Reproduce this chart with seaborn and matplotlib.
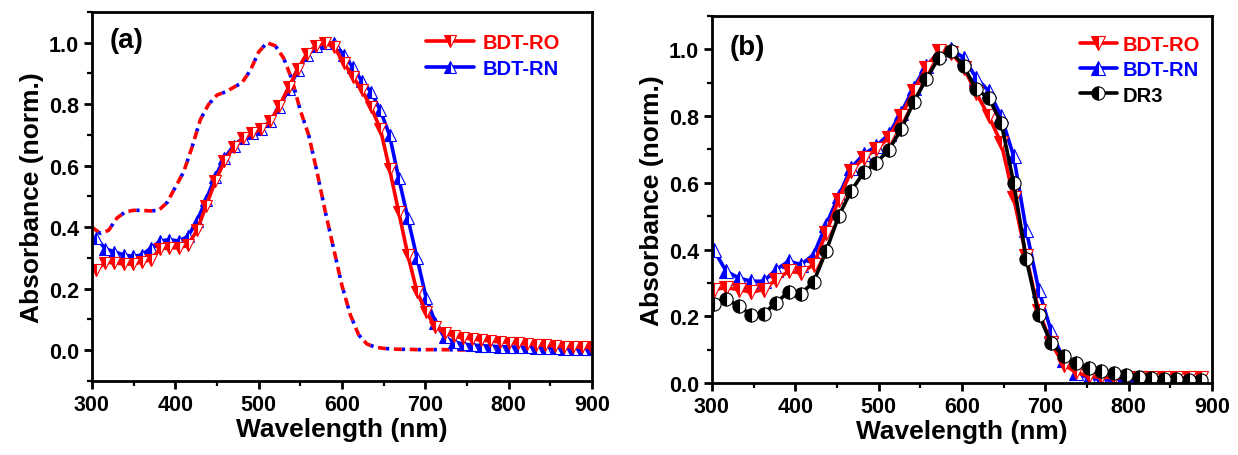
import matplotlib
matplotlib.use("Agg")
import matplotlib.pyplot as plt
import seaborn as sns
import pandas as pd
from matplotlib.ticker import MultipleLocator

# ---------------- data: panel (a) ----------------
# solution spectra (dashed), 10 nm steps
wl_sol = [300, 310, 320, 330, 340, 350, 360, 370, 380, 390, 400, 410, 420, 430,
          440, 450, 460, 470, 480, 490, 500, 510, 520, 530, 540, 550, 560, 570,
          580, 590, 600, 610, 620, 630, 640, 650, 660, 670, 680, 690, 700, 720,
          740, 760, 780, 800, 820, 840, 860, 880, 900]
ro_sol = [0.40, 0.38, 0.39, 0.43, 0.45, 0.455, 0.455, 0.453, 0.455, 0.48, 0.53,
          0.58, 0.66, 0.75, 0.80, 0.83, 0.84, 0.855, 0.87, 0.91, 0.97, 1.00,
          0.99, 0.95, 0.88, 0.78, 0.70, 0.58, 0.45, 0.33, 0.21, 0.115, 0.05,
          0.02, 0.01, 0.006, 0.004, 0.003, 0.003, 0.002, 0.002, 0.002, 0.001,
          0.001, 0.001, 0.001, 0.0, 0.0, 0.0, 0.0, 0.0]
rn_sol = [0.40, 0.38, 0.39, 0.43, 0.45, 0.455, 0.455, 0.453, 0.455, 0.48, 0.53,
          0.58, 0.66, 0.75, 0.80, 0.83, 0.84, 0.855, 0.87, 0.91, 0.97, 1.00,
          0.99, 0.95, 0.88, 0.78, 0.70, 0.58, 0.45, 0.33, 0.21, 0.115, 0.05,
          0.02, 0.01, 0.006, 0.004, 0.003, 0.003, 0.002, 0.002, 0.002, 0.001,
          0.001, 0.001, 0.001, 0.0, 0.0, 0.0, 0.0, 0.0]

# film spectra (markers)
wl_film_a = [305, 316, 327, 338, 349, 360, 371, 382, 393, 404, 415, 426, 437,
             448, 459, 470, 481, 492, 503, 514, 525, 536, 547, 558, 569, 580,
             591, 602, 613, 624, 635, 646, 657, 668, 679, 690, 701, 712, 723,
             734, 745, 756, 767, 778, 789, 800, 811, 822, 833, 844, 855, 866,
             877, 888, 899]
ro_film_a = [0.262, 0.285, 0.285, 0.28, 0.28, 0.287, 0.295, 0.33, 0.333, 0.333,
             0.342, 0.39, 0.47, 0.55, 0.615, 0.66, 0.69, 0.705, 0.72, 0.745,
             0.795, 0.855, 0.915, 0.965, 0.99, 1.0, 0.985, 0.935, 0.89, 0.845,
             0.79, 0.72, 0.59, 0.45, 0.31, 0.19, 0.125, 0.077, 0.056, 0.046,
             0.04, 0.037, 0.033, 0.03, 0.027, 0.025, 0.022, 0.02, 0.018, 0.016,
             0.014, 0.012, 0.011, 0.01, 0.009]
rn_film_a = [0.365, 0.33, 0.32, 0.31, 0.305, 0.31, 0.333, 0.355, 0.36, 0.355,
             0.37, 0.42, 0.49, 0.565, 0.625, 0.665, 0.69, 0.705, 0.72, 0.745,
             0.79, 0.85, 0.91, 0.96, 0.99, 1.0, 1.0, 0.96, 0.92, 0.875, 0.84,
             0.78, 0.70, 0.56, 0.43, 0.30, 0.17, 0.09, 0.042, 0.028, 0.02,
             0.017, 0.015, 0.013, 0.012, 0.011, 0.01, 0.009, 0.008, 0.007,
             0.006, 0.005, 0.005, 0.004, 0.004]

# ---------------- data: panel (b) ----------------
wl_b = [302, 317, 332, 347, 362, 377, 392, 407, 422, 437, 452, 467, 482, 497,
        512, 527, 542, 557, 572, 587, 602, 617, 632, 647, 662, 677, 692, 707,
        722, 737, 752, 767, 782, 797, 812, 827, 842, 857, 872, 887]
ro_b = [0.28, 0.286, 0.28, 0.272, 0.28, 0.31, 0.335, 0.33, 0.355, 0.45, 0.55,
        0.635, 0.675, 0.70, 0.735, 0.80, 0.875, 0.945, 0.995, 0.99, 0.945,
        0.87, 0.80, 0.72, 0.555, 0.38, 0.215, 0.12, 0.055, 0.032, 0.02, 0.017,
        0.016, 0.016, 0.016, 0.015, 0.015, 0.015, 0.015, 0.015]
rn_b = [0.40, 0.335, 0.315, 0.305, 0.305, 0.34, 0.365, 0.355, 0.385, 0.475,
        0.56, 0.645, 0.685, 0.71, 0.745, 0.81, 0.885, 0.95, 0.99, 1.0, 0.975,
        0.915, 0.875, 0.80, 0.68, 0.46, 0.28, 0.155, 0.07, 0.03, 0.015, 0.01,
        0.008, 0.008, 0.008, 0.008, 0.008, 0.008, 0.008, 0.008]
dr3_b = [0.237, 0.251, 0.231, 0.204, 0.208, 0.241, 0.273, 0.268, 0.303, 0.396,
         0.50, 0.576, 0.631, 0.66, 0.698, 0.76, 0.842, 0.91, 0.975, 0.995,
         0.95, 0.88, 0.855, 0.78, 0.60, 0.373, 0.205, 0.12, 0.08, 0.06, 0.046,
         0.037, 0.03, 0.024, 0.019, 0.014, 0.012, 0.011, 0.01, 0.009]

labels = ["BDT-RO", "BDT-RN", "DR3"]
RED, BLUE, BLACK = "#FF0000", "#0000FF", "#000000"

# ---------------- style ----------------
sns.set_theme(style="ticks")
plt.rcParams['font.family'] = ['Liberation Sans', 'DejaVu Sans']
plt.rcParams.update({
    'font.weight': 'bold',
    'axes.labelweight': 'bold',
    'text.color': 'black',
    'axes.labelcolor': 'black',
    'axes.linewidth': 2.0,
    'xtick.major.width': 2.0, 'ytick.major.width': 2.0,
    'xtick.minor.width': 1.6, 'ytick.minor.width': 1.6,
    'xtick.major.size': 6, 'ytick.major.size': 6,
    'xtick.minor.size': 3.5, 'ytick.minor.size': 3.5,
    'xtick.direction': 'out', 'ytick.direction': 'out',
    'xtick.labelsize': 15.5, 'ytick.labelsize': 15.5,
    'xtick.labelcolor': 'black', 'ytick.labelcolor': 'black',
    'xtick.color': 'black', 'ytick.color': 'black',
    'axes.edgecolor': 'black',
})

fig = plt.figure(figsize=(12.38, 4.56), dpi=100)
ax_a = fig.add_axes([0.0743, 0.1623, 0.4039, 0.8092])
ax_b = fig.add_axes([0.5751, 0.1579, 0.4039, 0.8048])


def film(ax, x, y, color, marker, ms, label):
    df = pd.DataFrame({"x": x, "y": y})
    sns.lineplot(data=df, x="x", y="y", ax=ax, color=color, linewidth=2.6,
                 marker=marker, markersize=ms, fillstyle='left',
                 markerfacecolor=color, markerfacecoloralt='white',
                 markeredgecolor=color, markeredgewidth=0.8,
                 label=label, sort=False, errorbar=None, legend=False)


def style_axes(ax, ylim, ylab):
    ax.set_xlim(300, 900)
    ax.set_ylim(*ylim)
    ax.xaxis.set_major_locator(MultipleLocator(100))
    ax.xaxis.set_minor_locator(MultipleLocator(50))
    ax.yaxis.set_major_locator(MultipleLocator(0.2))
    ax.yaxis.set_minor_locator(MultipleLocator(0.1))
    ax.tick_params(which='both', top=False, right=False)
    ax.set_xlabel("Wavelength (nm)", fontsize=19, fontweight='bold',
                  labelpad=1, color='black')
    ax.set_ylabel(ylab, fontsize=19, fontweight='bold', labelpad=3,
                  color='black')
    ax.yaxis.set_major_formatter(matplotlib.ticker.FormatStrFormatter('%.1f'))
    for lab in ax.get_xticklabels() + ax.get_yticklabels():
        lab.set_fontweight('bold')
    for s in ax.spines.values():
        s.set_visible(True)
        s.set_linewidth(2.0)
        s.set_color('black')


# ---- panel (a) ----
df_sol = pd.DataFrame({"x": wl_sol, "ro": ro_sol, "rn": rn_sol})
sns.lineplot(data=df_sol, x="x", y="rn", ax=ax_a, color=BLUE, linewidth=2.6,
             dashes=False, linestyle=(2.2, (0.9, 3.5)), sort=False,
             errorbar=None, legend=False)
sns.lineplot(data=df_sol, x="x", y="ro", ax=ax_a, color=RED, linewidth=2.6,
             dashes=False, linestyle=(0, (2.2, 2.2)), sort=False,
             errorbar=None, legend=False)
film(ax_a, wl_film_a, rn_film_a, BLUE, '^', 9, labels[1])
film(ax_a, wl_film_a, ro_film_a, RED, 'v', 9, labels[0])
style_axes(ax_a, (-0.1, 1.1), "Absorbance (norm.)")
ax_a.text(0.035, 0.96, "(a)", transform=ax_a.transAxes, fontsize=20,
          fontweight='bold', va='top', ha='left', color='black')
lines_a = ax_a.get_lines()
h_a = [lines_a[3], lines_a[2]]
leg_a = ax_a.legend(h_a, [labels[0], labels[1]], loc='upper right',
                    frameon=False, handlelength=2.4,
                    handletextpad=0.4, labelspacing=0.35,
                    bbox_to_anchor=(0.96, 0.975), borderaxespad=0.2,
                    prop={'weight': 'bold', 'size': 14.5})
for t, c in zip(leg_a.get_texts(), [RED, BLUE]):
    t.set_color(c)

# ---- panel (b) ----
film(ax_b, wl_b, rn_b, BLUE, '^', 9.5, labels[1])
film(ax_b, wl_b, ro_b, RED, 'v', 9.5, labels[0])
film(ax_b, wl_b, dr3_b, BLACK, 'o', 9.5, labels[2])
style_axes(ax_b, (0.0, 1.1), "Absorbance (norm.)")
ax_b.text(0.035, 0.95, "(b)", transform=ax_b.transAxes, fontsize=20,
          fontweight='bold', va='top', ha='left', color='black')
lines_b = ax_b.get_lines()
h_b = [lines_b[1], lines_b[0], lines_b[2]]
leg_b = ax_b.legend(h_b, labels, loc='upper right', frameon=False,
                    handlelength=1.8, handletextpad=0.3, labelspacing=0.3,
                    bbox_to_anchor=(1.0, 0.98), borderaxespad=0.2,
                    prop={'weight': 'bold', 'size': 14.5})
for t, c in zip(leg_b.get_texts(), [RED, BLUE, BLACK]):
    t.set_color(c)

fig.savefig("out.png", dpi=100)
